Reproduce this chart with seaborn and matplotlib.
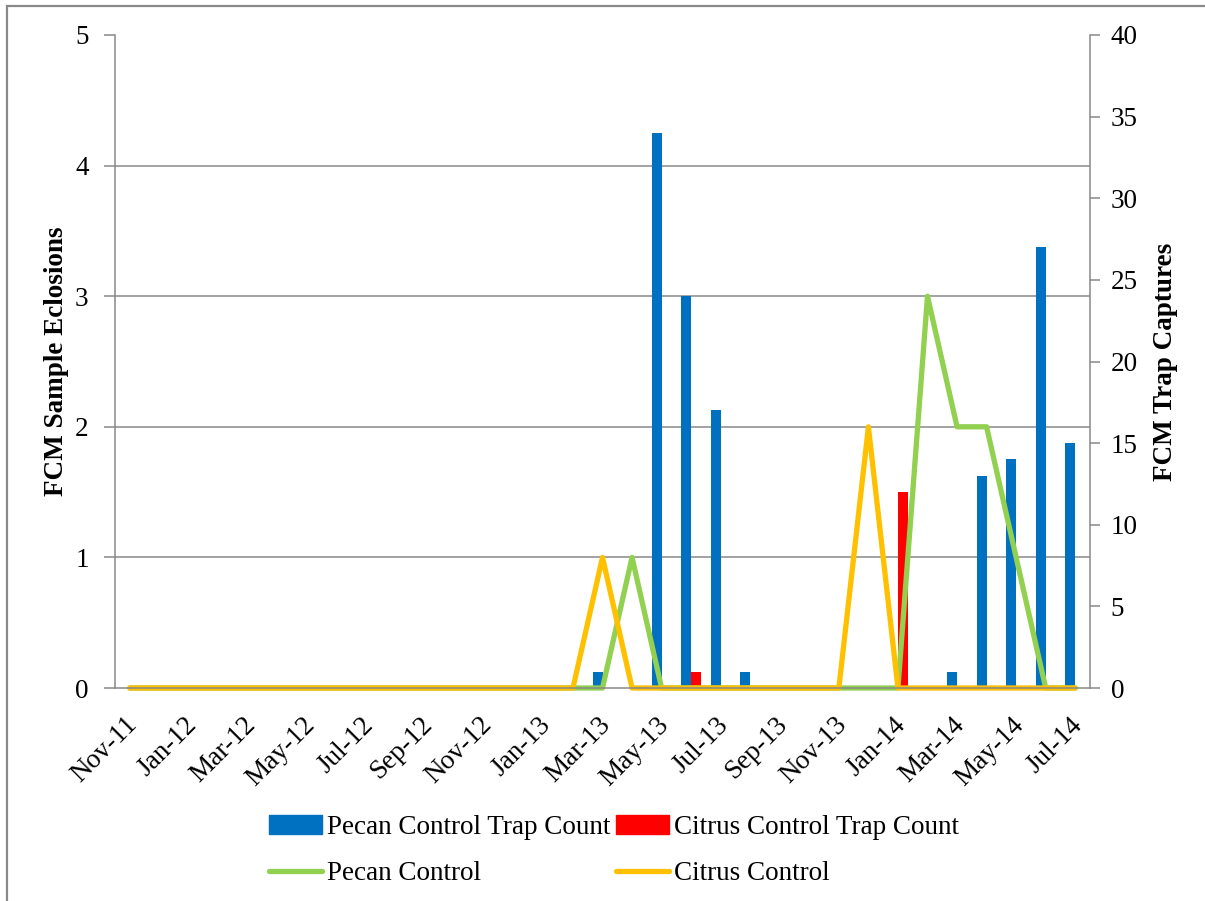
import numpy as np
import pandas as pd
import seaborn as sns
import matplotlib.pyplot as plt
from matplotlib.ticker import FixedLocator
from matplotlib.lines import Line2D
from matplotlib.patches import Patch, Rectangle

# Monthly sampling periods
months = ["Nov-11", "Dec-11", "Jan-12", "Feb-12", "Mar-12", "Apr-12", "May-12",
          "Jun-12", "Jul-12", "Aug-12", "Sep-12", "Oct-12", "Nov-12", "Dec-12",
          "Jan-13", "Feb-13", "Mar-13", "Apr-13", "May-13", "Jun-13", "Jul-13",
          "Aug-13", "Sep-13", "Oct-13", "Nov-13", "Dec-13", "Jan-14", "Feb-14",
          "Mar-14", "Apr-14", "May-14", "Jun-14", "Jul-14"]

# FCM trap captures (right axis)
pecan_trap = [0, 0, 0, 0, 0, 0, 0, 0, 0, 0, 0, 0, 0, 0, 0, 0,
              1, 0, 34, 24, 17, 1, 0, 0, 0, 0, 0, 0, 1, 13, 14, 27, 15]
citrus_trap = [0, 0, 0, 0, 0, 0, 0, 0, 0, 0, 0, 0, 0, 0, 0, 0,
               0, 0, 0, 1, 0, 0, 0, 0, 0, 0, 12, 0, 0, 0, 0, 0, 0]

# FCM sample eclosions (left axis)
pecan_ctrl = [0, 0, 0, 0, 0, 0, 0, 0, 0, 0, 0, 0, 0, 0, 0, 0,
              0, 1, 0, 0, 0, 0, 0, 0, 0, 0, 0, 3, 2, 2, 1, 0, 0]
citrus_ctrl = [0, 0, 0, 0, 0, 0, 0, 0, 0, 0, 0, 0, 0, 0, 0, 0,
               1, 0, 0, 0, 0, 0, 0, 0, 0, 2, 0, 0, 0, 0, 0, 0, 0]

trap_names = ["Pecan Control Trap Count", "Citrus Control Trap Count"]
ctrl_names = ["Pecan Control", "Citrus Control"]

BLUE, RED, GREEN, ORANGE = "#0070C0", "#FF0000", "#92D050", "#FFC000"
GRAY = "#898989"
FS = 19.5
LW = 3.8

sns.set_theme(style="white")
plt.rcParams["font.family"] = ["Liberation Serif", "DejaVu Serif"]
plt.rcParams["font.size"] = FS
plt.rcParams["text.color"] = "black"
plt.rcParams["axes.labelcolor"] = "black"
plt.rcParams["xtick.labelcolor"] = "black"
plt.rcParams["ytick.labelcolor"] = "black"

fig = plt.figure(figsize=(12.05, 9.01), dpi=100)
ax_l = fig.add_axes([115 / 1205, 1 - 688 / 901, 975 / 1205, 653 / 901])
ax_r = ax_l.twinx()

# Trap counts as clustered bars on the secondary axis
bars = pd.DataFrame({
    "month": months * 2,
    "count": pecan_trap + citrus_trap,
    "series": [trap_names[0]] * len(months) + [trap_names[1]] * len(months),
})
sns.barplot(data=bars, x="month", y="count", hue="series", order=months,
            hue_order=trap_names, palette=[BLUE, RED], saturation=1,
            width=0.66, dodge=True, linewidth=0, errorbar=None,
            legend=False, ax=ax_r)

# Eclosion lines on the primary axis
pos = np.arange(len(months))
sns.lineplot(x=pos, y=pecan_ctrl, color=GREEN, linewidth=LW, ax=ax_l,
             solid_capstyle="round", solid_joinstyle="round", clip_on=False)
sns.lineplot(x=pos, y=citrus_ctrl, color=ORANGE, linewidth=LW, ax=ax_l,
             solid_capstyle="round", solid_joinstyle="round", clip_on=False)

ax_l.set_zorder(ax_r.get_zorder() + 1)
ax_l.patch.set_visible(False)

ax_l.set_xlim(-0.5, len(months) - 0.5)
ax_l.set_ylim(0, 5)
ax_r.set_ylim(0, 40)

# x axis: labels every two months (anchored just left of each month centre),
# tick marks at period boundaries
ax_l.set_xticks(pos[::2] - 0.17)
ax_l.set_xticklabels(months[::2], rotation=45, ha="right",
                     rotation_mode="anchor", fontsize=FS)
ax_l.xaxis.set_minor_locator(FixedLocator(np.arange(-0.5, len(months) - 1, 2)))
ax_l.tick_params(axis="x", which="major", length=0, pad=17.5)
ax_l.tick_params(axis="x", which="minor", length=7, width=1.1, color=GRAY,
                 direction="out")

ax_l.set_yticks(range(0, 6))
ax_l.tick_params(axis="y", which="major", length=8, width=1.1, color=GRAY,
                 direction="out", pad=11, labelsize=FS, left=True)
ax_r.set_yticks(range(0, 41, 5))
ax_r.tick_params(axis="y", which="major", length=7, width=1.1, color=GRAY,
                 direction="out", pad=8, labelsize=FS, right=True)

# Horizontal gridlines at the eclosion steps, behind the bars
ax_l.grid(False)
ax_r.grid(False)
ax_r.yaxis.set_minor_locator(FixedLocator([8, 16, 24, 32, 40]))
ax_r.tick_params(axis="y", which="minor", length=0)
ax_r.yaxis.grid(True, which="minor", color=GRAY, linewidth=1.1)
ax_r.set_axisbelow(True)

for name in ["top", "right"]:
    ax_l.spines[name].set_visible(False)
for name in ["left", "bottom"]:
    ax_l.spines[name].set_color(GRAY)
    ax_l.spines[name].set_linewidth(1.1)
for name in ["top", "left", "bottom"]:
    ax_r.spines[name].set_visible(False)
ax_r.spines["right"].set_color(GRAY)
ax_r.spines["right"].set_linewidth(1.1)

ax_l.set_xlabel("")
ax_r.set_xlabel("")
ax_l.set_ylabel("FCM Sample Eclosions", fontweight="bold", fontsize=FS,
                labelpad=4)
ax_r.set_ylabel("FCM Trap Captures", fontweight="bold", fontsize=FS,
                labelpad=11)

handles = [Patch(color=BLUE), Line2D([], [], color=GREEN, linewidth=LW),
           Patch(color=RED), Line2D([], [], color=ORANGE, linewidth=LW)]
labels = [trap_names[0], ctrl_names[0], trap_names[1], ctrl_names[1]]
fig.legend(handles, labels, ncol=2, loc="upper left",
           bbox_to_anchor=(269 / 1205, 1 - 815 / 901), frameon=False,
           fontsize=FS, handlelength=1.95, handletextpad=0.2,
           columnspacing=0.2, labelspacing=0.78, borderaxespad=0,
           borderpad=0)

# Chart-area border
fig.patches.append(Rectangle((7.5 / 1205, -0.05), 1.2, 1 - 5.5 / 901 + 0.05,
                             transform=fig.transFigure, fill=False,
                             edgecolor=GRAY, linewidth=1.6))

fig.savefig("out.png", dpi=100)
